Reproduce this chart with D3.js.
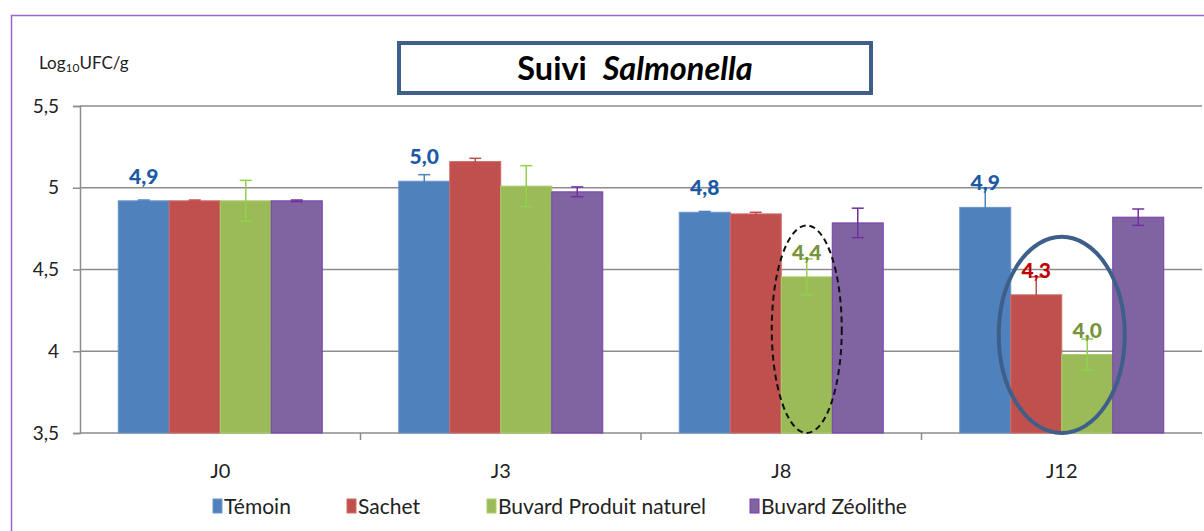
<!DOCTYPE html>
<html>
<head>
<meta charset="utf-8">
<script src="https://cdn.jsdelivr.net/npm/d3@7"></script>
<style>
    body { margin: 0; background: #fff; }
    svg { display: block; }
    text { font-family: Lato, "Open Sans", sans-serif; }
</style>
</head>
<body>
<div id="chart"></div>
<script>
// Data
const categories = ['J0', 'J3', 'J8', 'J12'];
const seriesNames = ['Témoin', 'Sachet', 'Buvard Produit naturel', 'Buvard Zéolithe'];
const temoin    = [4.92, 5.04, 4.85, 4.88];
const sachet    = [4.92, 5.16, 4.84, 4.345];
const buvardPN  = [4.92, 5.01, 4.455, 3.98];
const buvardZeo = [4.92, 4.975, 4.785, 4.82];
const errTemoin    = [0.005, 0.04, 0.005, 0.12];
const errSachet    = [0.005, 0.02, 0.01, 0.11];
const errBuvardPN  = [0.125, 0.125, 0.11, 0.095];
const errBuvardZeo = [0.005, 0.03, 0.09, 0.05];
// data labels shown on the chart (null = no label)
const lblTemoin    = ['4,9', '5,0', '4,8', '4,9'];
const lblSachet    = [null, null, null, '4,3'];
const lblBuvardPN  = [null, null, '4,4', '4,0'];
const lblBuvardZeo = [null, null, null, null];
const yTicks = [3.5, 4, 4.5, 5, 5.5];
const yTickLabels = ['3,5', '4', '4,5', '5', '5,5'];

const values = [temoin, sachet, buvardPN, buvardZeo];
const errors = [errTemoin, errSachet, errBuvardPN, errBuvardZeo];
const labels = [lblTemoin, lblSachet, lblBuvardPN, lblBuvardZeo];

const fills   = ['#4F81BD', '#C0504D', '#9BBB59', '#8064A2'];
const strokes = ['#6C95C9', '#D06A67', '#A9D06A', '#7A3CB0'];
const errCols = ['#4F81BD', '#C0504D', '#92D050', '#7030A0'];
const lblCols = ['#1C5AA6', '#C00000', '#77933C', '#7030A0'];

const width = 1204, height = 531;
const margin = { top: 106, right: 2, bottom: 98, left: 80 };

const svg = d3.select('#chart')
    .append('svg')
    .attr('width', width)
    .attr('height', height);

// outer frame
svg.append('rect')
    .attr('x', 11.5).attr('y', 15.5)
    .attr('width', 1210).attr('height', 540)
    .attr('fill', 'none')
    .attr('stroke', '#9966CC')
    .attr('stroke-width', 1.5);

const x = d3.scaleBand()
    .domain(categories)
    .range([margin.left, width - margin.right])
    .paddingInner(0).paddingOuter(0);

const xSub = d3.scaleBand()
    .domain(d3.range(seriesNames.length))
    .range([0, x.bandwidth()])
    .paddingInner(0)
    .paddingOuter(0.75);

const y = d3.scaleLinear()
    .domain([3.5, 5.5])
    .range([height - margin.bottom, margin.top]);

// gridlines
svg.append('g')
    .selectAll('line')
    .data(yTicks.slice(1))
    .join('line')
    .attr('x1', margin.left).attr('x2', width - margin.right)
    .attr('y1', d => y(d)).attr('y2', d => y(d))
    .attr('stroke', '#8C8C8C')
    .attr('stroke-width', 1.5);

// y axis
const yAxis = d3.axisLeft(y)
    .tickValues(yTicks)
    .tickFormat((d, i) => yTickLabels[i])
    .tickSize(7)
    .tickPadding(14);

svg.append('g')
    .attr('transform', `translate(${margin.left},0)`)
    .call(yAxis)
    .call(g => g.select('.domain').attr('stroke', '#8C8C8C').attr('stroke-width', 1.5))
    .call(g => g.selectAll('.tick line').attr('stroke', '#8C8C8C').attr('stroke-width', 1.5))
    .call(g => g.selectAll('.tick text')
        .attr('font-size', 19)
        .attr('fill', '#222')
        .style('font-family', 'Lato, sans-serif'));

// x axis
svg.append('line')
    .attr('x1', margin.left).attr('x2', width - margin.right)
    .attr('y1', y(3.5)).attr('y2', y(3.5))
    .attr('stroke', '#8C8C8C').attr('stroke-width', 1.5);

svg.append('g')
    .selectAll('line')
    .data(categories.slice(1))
    .join('line')
    .attr('x1', d => x(d)).attr('x2', d => x(d))
    .attr('y1', y(3.5)).attr('y2', y(3.5) + 7)
    .attr('stroke', '#8C8C8C').attr('stroke-width', 1.5);

svg.append('g')
    .selectAll('text')
    .data(categories)
    .join('text')
    .attr('x', d => x(d) + x.bandwidth() / 2)
    .attr('y', 478)
    .attr('text-anchor', 'middle')
    .attr('font-size', 20)
    .attr('fill', '#222')
    .text(d => d);

// bars
const cells = [];
categories.forEach((c, ci) => {
    seriesNames.forEach((s, si) => {
        cells.push({
            cat: c, si,
            v: values[si][ci],
            e: errors[si][ci],
            lbl: labels[si][ci]
        });
    });
});

const barG = svg.append('g');
barG.selectAll('rect')
    .data(cells)
    .join('rect')
    .attr('x', d => x(d.cat) + xSub(d.si))
    .attr('y', d => y(d.v))
    .attr('width', xSub.bandwidth())
    .attr('height', d => y(3.5) - y(d.v))
    .attr('fill', d => fills[d.si])
    .attr('stroke', d => strokes[d.si])
    .attr('stroke-width', 1);

// error bars
const errG = svg.append('g');
const cx = d => x(d.cat) + xSub(d.si) + xSub.bandwidth() / 2;
errG.selectAll('line.v')
    .data(cells)
    .join('line')
    .attr('class', 'v')
    .attr('x1', cx).attr('x2', cx)
    .attr('y1', d => y(d.v + d.e)).attr('y2', d => y(d.v - d.e))
    .attr('stroke', d => errCols[d.si]).attr('stroke-width', 1.5);
['+', '-'].forEach(sign => {
    errG.selectAll('line.cap' + (sign === '+' ? 'u' : 'd'))
        .data(cells)
        .join('line')
        .attr('class', 'cap' + (sign === '+' ? 'u' : 'd'))
        .attr('x1', d => cx(d) - 6).attr('x2', d => cx(d) + 6)
        .attr('y1', d => y(sign === '+' ? d.v + d.e : d.v - d.e))
        .attr('y2', d => y(sign === '+' ? d.v + d.e : d.v - d.e))
        .attr('stroke', d => errCols[d.si]).attr('stroke-width', 1.5);
});

// data labels
svg.append('g')
    .selectAll('text')
    .data(cells.filter(d => d.lbl))
    .join('text')
    .attr('x', cx)
    .attr('y', d => y(d.v) - 17)
    .attr('text-anchor', 'middle')
    .attr('font-size', 21)
    .attr('font-weight', 900)
    .attr('fill', d => lblCols[d.si])
    .text(d => d.lbl);

// annotation ellipses around J8 / J12 bars
const pnJ8 = cells.find(d => d.cat === 'J8' && d.si === 2);
svg.append('ellipse')
    .attr('cx', cx(pnJ8))
    .attr('cy', (y(3.5) + y(4.77)) / 2)
    .attr('rx', 35)
    .attr('ry', (y(3.5) - y(4.77)) / 2)
    .attr('fill', 'none')
    .attr('stroke', '#111')
    .attr('stroke-width', 2)
    .attr('stroke-dasharray', '6,4');

const sJ12 = cells.find(d => d.cat === 'J12' && d.si === 1);
const pJ12 = cells.find(d => d.cat === 'J12' && d.si === 2);
svg.append('ellipse')
    .attr('cx', (cx(sJ12) + cx(pJ12)) / 2)
    .attr('cy', (y(3.5) + y(4.7)) / 2)
    .attr('rx', 63)
    .attr('ry', (y(3.5) - y(4.7)) / 2)
    .attr('fill', 'none')
    .attr('stroke', '#3E5F8A')
    .attr('stroke-width', 4);

// title box
svg.append('rect')
    .attr('x', 399).attr('y', 43)
    .attr('width', 472).attr('height', 50)
    .attr('fill', '#fff')
    .attr('stroke', '#3E5F8A')
    .attr('stroke-width', 4);

const title = svg.append('text')
    .attr('x', 635).attr('y', 80)
    .attr('text-anchor', 'middle')
    .attr('font-size', 32.5)
    .attr('fill', '#000')
    .style('white-space', 'pre');
title.append('tspan').attr('font-weight', 'bold').text('Suivi  ');
title.append('tspan').attr('font-weight', 'bold').attr('font-style', 'italic').text('Salmonella');

// y axis unit label
const unit = svg.append('text')
    .attr('x', 39).attr('y', 69)
    .attr('font-size', 17)
    .attr('fill', '#222');
unit.append('tspan').text('Log');
unit.append('tspan').attr('font-size', 12).attr('dy', 3).text('10');
unit.append('tspan').attr('dy', -3).text('UFC/g');

// legend
const legendX = [213, 347, 487, 750];
const legend = svg.append('g')
    .selectAll('g')
    .data(seriesNames)
    .join('g')
    .attr('transform', (d, i) => `translate(${legendX[i]},0)`);
legend.append('rect')
    .attr('x', 0).attr('y', 499)
    .attr('width', 9).attr('height', 14)
    .attr('fill', (d, i) => fills[i])
    .attr('stroke', (d, i) => strokes[i]);
legend.append('text')
    .attr('x', 11).attr('y', 514)
    .attr('font-size', 21)
    .attr('fill', '#222')
    .text(d => d);
</script>
</body>
</html>
